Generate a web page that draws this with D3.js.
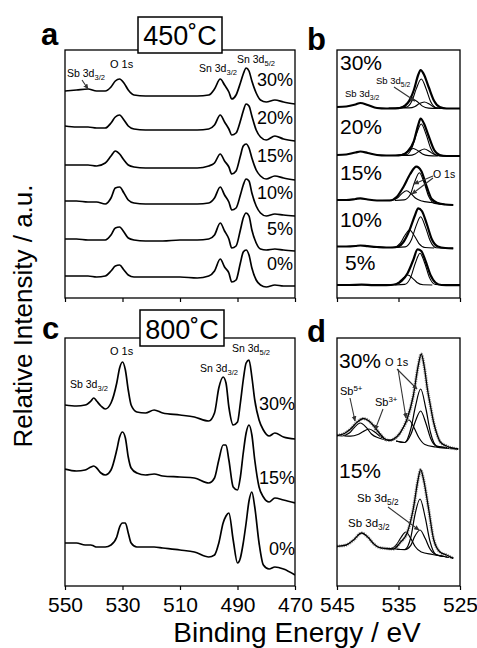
<!DOCTYPE html>
<html>
<head>
<meta charset="utf-8">
<script src="https://cdn.jsdelivr.net/npm/d3@7"></script>
<style>
  body { margin: 0; background: #fff; }
  svg { display: block; font-family: "Liberation Sans", Arial, Helvetica, sans-serif; }
</style>
</head>
<body>
<svg width="477" height="648"></svg>
<script>
// ---- panel a : 450 C survey, binding energy grid + one array per Sb content
var gridA = [550, 546, 542, 539, 536, 534, 532.5, 531, 529.5, 528, 526, 522, 516, 510, 504, 500, 498, 496, 494.5, 493, 492, 490.5, 489, 488, 487, 486, 485, 483.5, 482, 480, 477, 474, 470];
var a30 = [207, 208, 209, 207, 207, 211, 217, 219, 215, 208, 203, 202, 202, 202, 202, 203, 209, 219, 213, 206, 199, 203, 215, 224, 230, 227, 217, 205, 198, 196, 198, 196, 194];
var a20 = [172, 171, 171, 170, 170, 175, 181, 183, 178, 172, 169, 168, 168, 168, 168, 169, 173, 183, 176, 169, 163, 165, 177, 187, 194, 192, 182, 168, 161, 158, 162, 159, 157];
var a15 = [133, 133, 133, 132, 135, 142, 147, 144, 138, 133, 131, 130, 130, 130, 130, 132, 135, 144, 137, 131, 124, 127, 142, 152, 154, 150, 140, 128, 122, 119, 122, 120, 118];
var a10 = [97, 97, 96, 96, 94, 100, 110, 111, 105, 98, 95, 94, 94, 94, 94, 95, 100, 111, 103, 96, 88, 90, 103, 113, 119, 117, 105, 92, 85, 82, 84, 83, 82];
var a5 = [59, 59, 58, 58, 58, 63, 70, 71, 66, 60, 58, 57, 57, 58, 58, 59, 63, 75, 67, 59, 50, 52, 68, 80, 85, 82, 68, 55, 49, 48, 49, 48, 47];
var a0 = [22, 22, 22, 21, 22, 27, 32, 33, 28, 23, 21, 21, 21, 21, 20, 22, 27, 39, 31, 25, 16, 18, 35, 46, 48, 43, 30, 18, 13, 11, 13, 12, 12];
var labelsA = ["30%", "20%", "15%", "10%", "5%", "0%"];

// ---- panel c : 800 C survey
var gridC = [550, 546, 543, 541, 540, 539, 537.5, 536, 534, 532, 531, 530, 529, 528, 527, 525, 522, 519, 516, 510, 505, 500, 498, 496.5, 495, 494, 493, 491.5, 490, 489, 488, 487, 486, 485, 484, 482.5, 481, 479, 477, 474, 470];
var c30 = [181, 180, 181, 185, 188, 185, 180, 177, 183, 203, 218, 224, 216, 196, 181, 174, 173, 176, 173, 171, 169, 165, 173, 198, 209, 203, 179, 161, 164, 183, 206, 223, 226, 209, 186, 166, 156, 150, 153, 149, 147];
var c15 = [117, 115, 116, 119, 120, 118, 113, 111, 116, 136, 149, 154, 148, 129, 118, 113, 111, 112, 110, 109, 108, 103, 108, 126, 141, 141, 126, 99, 96, 109, 133, 153, 161, 151, 126, 99, 89, 84, 88, 86, 83];
var c0 = [43, 43, 41, 41, 40, 39, 39, 39, 41, 49, 59, 63, 63, 53, 43, 39, 39, 39, 38, 36, 34, 29, 31, 43, 63, 70, 73, 46, 23, 28, 43, 63, 85, 94, 79, 43, 21, 17, 19, 17, 11];
var labelsC = ["30%", "15%", "0%"];

// ---- panel b : O 1s / Sb 3d region, 450 C  ([BE, intensity])
var b30 = [[545,191],[543.5,191.5],[542,193.5],[541.2,195],[540,193],[538.5,190],[537,189.5],[535.5,189.5],[534.5,190.5],[533.5,195],[532.5,208],[531.8,223],[531.4,228],[530.9,224],[530.1,211],[529.2,197],[528.3,191],[527.2,189.5],[525,189.5]];
var b30c = [
  [[535.3,190],[533.8,190.6],[532.8,197.2],[532.1,209.4],[531.3,219],[530.5,209],[529.8,196.8],[528.8,190.1],[527.3,189.5]],
  [[536.6,190],[535.1,190.2],[534.1,192.1],[533.4,195.7],[532.6,198.5],[531.8,195.6],[531.1,191.9],[530.1,189.9],[528.6,189.5]],
  [[534.8,190],[533.3,190.1],[532.3,191.6],[531.6,194.4],[530.8,196],[530,193.9],[529.3,191.1],[528.3,189.6],[526.8,189.5]]
];
var b20 = [[545,143],[543.5,143.5],[542,145.5],[541.2,146.5],[540,145],[538.5,143],[537,142.5],[535.5,142.5],[534.5,143],[533.5,146.5],[532.5,157],[531.8,173],[531.4,179.5],[530.9,175],[530.1,162],[529.2,148],[528.3,143],[527.2,142],[525,142]];
var b20c = [
  [[535.3,142.5],[533.8,143.1],[532.8,150.4],[532.1,163.6],[531.3,174],[530.5,163.4],[529.8,150.2],[528.8,142.6],[527.3,142]],
  [[536.6,142.5],[535.1,142.6],[534.1,144.2],[533.4,147.2],[532.6,149.5],[531.8,147.1],[531.1,144.1],[530.1,142.4],[528.6,142]],
  [[534.8,142.5],[533.3,142.6],[532.3,144.1],[531.6,146.9],[530.8,149],[530,146.7],[529.3,143.9],[528.3,142.1],[526.8,142]]
];
var b15 = [[545,98],[543.5,98],[542,99],[541.2,99.7],[540,98.5],[538.5,97.5],[537,97.5],[536.4,97.5],[535.3,101],[534.2,111],[533.1,124],[532.1,131.3],[531.3,127],[530.4,111],[529.6,99],[528.6,95],[527.4,93.5],[526.1,93]];
var b15c = [
  [[535.6,97.5],[534.1,98.1],[533.1,103.3],[532.4,115.6],[531.6,125.3],[530.8,114.6],[530.1,101.8],[529.1,94.6],[527.6,93.5],[526.1,93]],
  [[537.7,97.5],[536.2,97.7],[535.2,100],[534.5,104.1],[533.7,107.3],[532.9,104],[532.2,99.7],[531.2,97],[529.7,95.5],[527.5,93.5]]
];
var b10 = [[545,51.5],[543.5,51.5],[542,52],[541.2,52.5],[540,51.8],[538.5,51],[537,50.5],[536,50.5],[535,51.5],[534.2,56],[533.2,68],[532.3,83],[531.8,89.7],[531.2,87],[530.4,74],[529.6,59],[528.6,51.5],[527.4,50],[526.1,49.7]];
var b10c = [
  [[535.4,50.5],[533.9,51.1],[532.9,58.2],[532.2,71.1],[531.4,81.3],[530.6,70.6],[529.9,58],[528.9,50.3],[527.4,49.8],[526.1,49.7]],
  [[537.2,50.5],[535.7,50.8],[534.7,54.9],[534,62.2],[533.2,68],[532.4,62],[531.7,54.7],[530.7,50.5],[529.2,50]]
];
var b5 = [[545,13],[543,13],[541,13.3],[539,12.8],[537,12.8],[535.5,13.5],[534.5,17],[533.5,25],[532.6,38],[531.9,48.7],[531.3,47],[530.6,37],[529.8,23],[529,15.5],[528,13],[526.5,12.8],[525,12.8]];
var b5c = [
  [[535.5,13],[534,13.6],[533,20.9],[532.3,34.2],[531.5,44.7],[530.7,34.2],[530,20.9],[529,13.6],[527.5,13]],
  [[537.5,13],[536,13.2],[535,15.5],[534.3,19.7],[533.5,23],[532.7,19.7],[532,15.5],[531,13.2],[529.5,13]]
];
var labelsB = ["30%", "20%", "15%", "10%", "5%"];

// ---- panel d : O 1s / Sb 3d region, 800 C
var d30 = [[545,150.5],[543.8,152.5],[542.8,157],[541.7,164],[540.7,167.5],[539.8,165],[539,160],[538.2,153.5],[537.2,147],[536.4,145.5],[535.8,147],[534.7,153.5],[533.6,167],[532.6,190],[531.8,220],[531.3,232],[530.8,219],[530.3,197],[529.8,180],[529.3,164],[528.7,151],[528.2,144],[527.2,140],[526.3,138],[525.3,137]];
var d30c = [
  [[545,150.5],[544.2,150.2],[543,153],[542.2,158.5],[541.2,163],[540.2,158.3],[539.4,152],[538.2,148],[537,146]],
  [[543.8,150],[542.8,149.8],[541.6,151.5],[540.8,154.2],[539.8,157],[538.8,153.8],[538,149.8],[536.8,146.2],[535.8,146]],
  [[535.4,145],[534,143.5],[533,157],[532.25,179.5],[531.4,197],[530.55,177.5],[529.8,153.5],[528.8,140],[526.5,138],[525.3,137]],
  [[535.4,145],[534,143.5],[533,151.5],[532.25,164.8],[531.4,175],[530.55,162.8],[529.8,148],[528.8,139.7],[526.5,138],[525.3,137]],
  [[537.3,146],[535.9,146.3],[534.9,151],[534.15,159.5],[533.3,166],[532.45,158],[531.7,148.5],[530.7,141.5],[529,139],[525.3,137]]
];
var d15 = [[545,39.7],[543.5,41],[542.3,46],[541,53],[540,49],[539,42],[538.2,38.7],[537,37.5],[535.8,37],[534.7,43.7],[533.6,53],[532.6,77],[531.8,107],[531.4,116.3],[531,108.7],[530.1,77],[529.3,47],[528.2,33.7],[527.2,31],[526.1,27.7]];
var d15c = [
  [[535.5,37],[534,36.5],[533,48.5],[532.35,70.5],[531.5,87],[530.65,68.3],[529.9,45.2],[528.9,31.5],[527.5,29.5],[526.1,28]],
  [[535.5,37],[534,36.3],[533,40.7],[532.35,49.7],[531.5,56],[530.65,47.4],[529.9,37.2],[528.9,31.2],[527.5,29.5],[526.1,28]],
  [[537.8,37.5],[536.3,37.3],[535.3,41.5],[534.6,48.5],[533.8,54],[533,47.5],[532.3,39.5],[531.3,34],[529.5,31.5],[526.1,28]]
];
var labelsD = ["30%", "15%"];

var ticksWide = [550, 530, 510, 490, 470];
var ticksNarrow = [545, 535, 525];

var svg = d3.select("svg");
var defs = svg.append("defs");
defs.append("marker")
    .attr("id", "arr")
    .attr("viewBox", "0 0 8 8")
    .attr("refX", 7).attr("refY", 4)
    .attr("markerWidth", 5).attr("markerHeight", 5)
    .attr("orient", "auto")
  .append("path")
    .attr("d", "M0,0.5 L8,4 L0,7.5 z")
    .attr("fill", "#333");

function panel(id, x0, y0, w, h, dom, ticks, showLabels) {
    var x = d3.scaleLinear().domain(dom).range([x0, x0 + w]);
    var y = d3.scaleLinear().domain([0, h]).range([y0 + h, y0]);
    defs.append("clipPath").attr("id", "clip" + id)
      .append("rect").attr("x", x0).attr("y", y0).attr("width", w).attr("height", h);
    var axis = d3.axisBottom(x)
        .tickValues(ticks)
        .tickSize(4)
        .tickSizeOuter(0)
        .tickPadding(7)
        .tickFormat(showLabels ? d3.format("d") : "");
    var ax = svg.append("g")
        .attr("transform", "translate(0," + (y0 + h) + ")")
        .call(axis);
    ax.select(".domain").remove();
    ax.selectAll("line").attr("stroke", "#000").attr("stroke-width", 1.2);
    ax.selectAll("text").attr("font-size", 21).attr("fill", "#000")
        .attr("font-family", "'Liberation Sans', Arial, sans-serif");
    var g = svg.append("g").attr("clip-path", "url(#clip" + id + ")");
    svg.append("rect")
        .attr("x", x0).attr("y", y0).attr("width", w).attr("height", h)
        .attr("fill", "none").attr("stroke", "#000").attr("stroke-width", 1.3);
    var line = d3.line()
        .x(function(d) { return x(d[0]); })
        .y(function(d) { return y(d[1]); })
        .curve(d3.curveMonotoneX);
    return { x: x, y: y, g: g, line: line };
}

// label with optional sub/superscripts: parts = [[text, "sub"|"sup"|""], ...]
function label(x, y, size, parts, anchor) {
    var t = svg.append("text")
        .attr("x", x).attr("y", y)
        .attr("font-size", size)
        .attr("text-anchor", anchor || "start");
    var shift = 0;
    parts.forEach(function(p) {
        var s = t.append("tspan").text(p[0]);
        var target = p[1] == "sub" ? size * 0.3 : p[1] == "sup" ? -size * 0.38 : 0;
        if (target != shift) s.attr("dy", target - shift);
        shift = target;
        if (p[1]) s.attr("font-size", size * 0.72);
    });
    return t;
}

function arrow(x1, y1, x2, y2) {
    svg.append("line")
        .attr("x1", x1).attr("y1", y1).attr("x2", x2).attr("y2", y2)
        .attr("stroke", "#333").attr("stroke-width", 1.1)
        .attr("marker-end", "url(#arr)");
}

// ---------- panel a
var pa = panel("a", 65, 50, 230, 248, [550, 470], ticksWide, false);
[a30, a20, a15, a10, a5, a0].forEach(function(s) {
    pa.g.append("path")
        .attr("d", pa.line(d3.zip(gridA, s)))
        .attr("fill", "none").attr("stroke", "#000").attr("stroke-width", 1.7);
});
[86, 124, 162, 199, 235, 270].forEach(function(yy, i) {
    label(293, yy, 18, [[labelsA[i], ""]], "end");
});

// ---------- panel c
var pc = panel("c", 65, 338, 230, 248, [550, 470], ticksWide, true);
[c30, c15, c0].forEach(function(s) {
    pc.g.append("path")
        .attr("d", pc.line(d3.zip(gridC, s)))
        .attr("fill", "none").attr("stroke", "#000").attr("stroke-width", 1.7);
});
[410, 484, 555].forEach(function(yy, i) {
    label(295, yy, 18, [[labelsC[i], ""]], "end");
});

// ---------- panel b
var pb = panel("b", 337, 50, 123, 248, [545, 525], ticksNarrow, false);
[[b30, b30c], [b20, b20c], [b15, b15c], [b10, b10c], [b5, b5c]].forEach(function(s) {
    s[1].forEach(function(c) {
        pb.g.append("path").attr("d", pb.line(c))
            .attr("fill", "none").attr("stroke", "#000").attr("stroke-width", 1.1);
    });
    pb.g.append("path").attr("d", pb.line(s[0]))
        .attr("fill", "none").attr("stroke", "#000").attr("stroke-width", 2.2);
});
[[340, 70], [340, 134], [340, 180], [340, 227], [345, 270]].forEach(function(p, i) {
    label(p[0], p[1], 21, [[labelsB[i], ""]]);
});

// ---------- panel d
var pd = panel("d", 337, 338, 123, 248, [545, 525], ticksNarrow, true);
[[d30, d30c], [d15, d15c]].forEach(function(s) {
    s[1].forEach(function(c) {
        pd.g.append("path").attr("d", pd.line(c))
            .attr("fill", "none").attr("stroke", "#000").attr("stroke-width", 1.2);
    });
    pd.g.append("path").attr("d", pd.line(s[0]))
        .attr("fill", "none").attr("stroke", "#999").attr("stroke-width", 3.2)
        .attr("stroke-dasharray", "1.2,1");
    pd.g.append("path").attr("d", pd.line(s[0]))
        .attr("fill", "none").attr("stroke", "#000").attr("stroke-width", 1.3);
});
label(339, 368, 21, [[labelsD[0], ""]]);
label(339, 478, 21, [[labelsD[1], ""]]);

// ---------- annotations
// a
label(67, 77, 10.5, [["Sb 3d", ""], ["3/2", "sub"]]);
arrow(82, 80, 88, 89);
label(110, 68, 11, [["O 1s", ""]]);
label(199, 72, 10.5, [["Sn 3d", ""], ["3/2", "sub"]]);
label(237, 63, 10.5, [["Sn 3d", ""], ["5/2", "sub"]]);
// b
label(376, 84, 9.5, [["Sb 3d", ""], ["5/2", "sub"]]);
label(345, 97, 9.5, [["Sb 3d", ""], ["3/2", "sub"]]);
arrow(394, 87, 415, 101);
label(433, 178, 10.5, [["O 1s", ""]]);
arrow(433, 176, 414, 184);
arrow(433, 178, 412, 194);
// c
label(110, 355, 11, [["O 1s", ""]]);
label(70, 388, 10.5, [["Sb 3d", ""], ["3/2", "sub"]]);
label(200, 372, 10.5, [["Sn 3d", ""], ["3/2", "sub"]]);
label(232, 352, 10.5, [["Sn 3d", ""], ["5/2", "sub"]]);
// d
label(385, 366, 11, [["O 1s", ""]]);
arrow(397, 369, 417, 389);
arrow(398, 369, 406, 418);
label(340, 395, 11, [["Sb", ""], ["5+", "sup"]]);
arrow(350, 398, 355, 421);
label(375, 406, 11, [["Sb", ""], ["3+", "sup"]]);
arrow(383, 409, 375, 430);
label(357, 502, 11.5, [["Sb 3d", ""], ["5/2", "sub"]]);
label(348, 527, 11.5, [["Sb 3d", ""], ["3/2", "sub"]]);
arrow(388, 507, 419, 530);

// ---------- temperature boxes
[["450˚C", 138, 17, 45], ["800˚C", 140, 310, 339]].forEach(function(b) {
    svg.append("rect").attr("x", b[1]).attr("y", b[2]).attr("width", 84).attr("height", 36)
        .attr("fill", "#fff").attr("stroke", "#000").attr("stroke-width", 1.5);
    svg.append("text").attr("x", b[1] + 42).attr("y", b[3])
        .attr("text-anchor", "middle").attr("font-size", 27).text(b[0]);
});

// ---------- panel letters
[["a", 41, 45], ["b", 307, 50], ["c", 42, 339], ["d", 307, 342]].forEach(function(l) {
    svg.append("text").attr("x", l[1]).attr("y", l[2])
        .attr("font-size", 31).attr("font-weight", "bold").text(l[0]);
});

// ---------- axis titles
svg.append("text")
    .attr("transform", "translate(32,316) rotate(-90)")
    .attr("text-anchor", "middle").attr("font-size", 26)
    .text("Relative Intensity / a.u.");
svg.append("text")
    .attr("x", 297).attr("y", 642)
    .attr("text-anchor", "middle").attr("font-size", 28)
    .text("Binding Energy / eV");
</script>
</body>
</html>
